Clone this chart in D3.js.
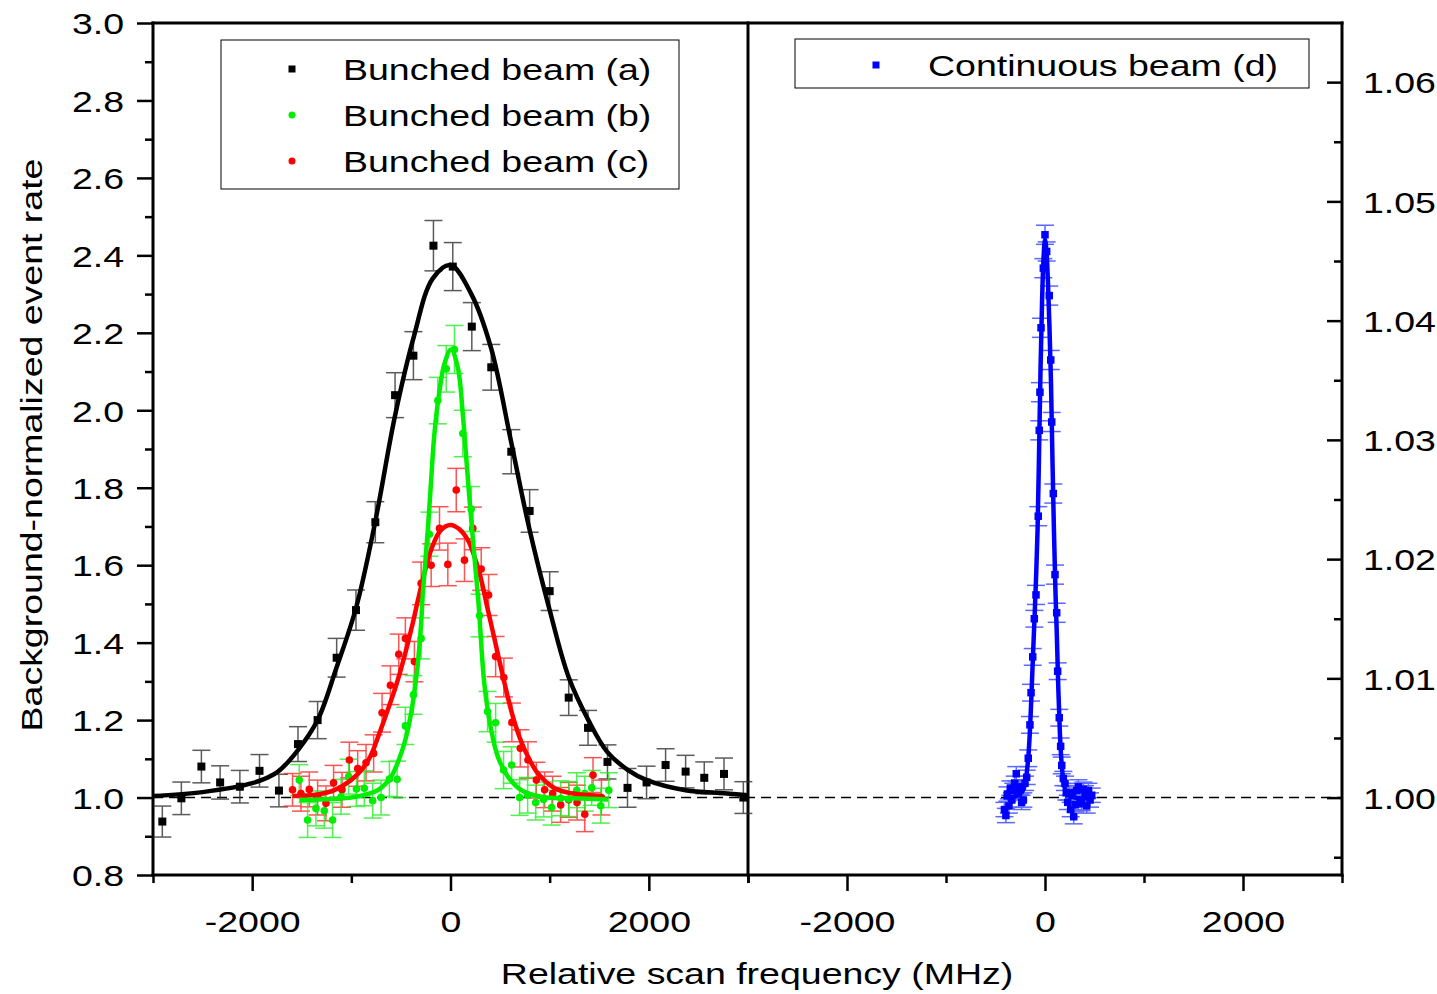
<!DOCTYPE html>
<html>
<head>
<meta charset="utf-8">
<script src="https://d3js.org/d3.v7.min.js"></script>
<style>
body { margin: 0; background: #fff; }
text { font-family: "Liberation Sans", Arial, sans-serif; }
</style>
</head>
<body>
<div id="chart"></div>
<script>
// ------------------------------- //
// Data
// ------------------------------- //

// Bunched beam (a), black squares
const freqA = [-2906, -2714, -2512, -2323, -2124, -1926, -1730, -1538, -1340, -1148, -953, -758, -559, -374, -172, 23, 215, 411, 613, 798, 1000, 1192, 1387, 1583, 1785, 1977, 2169, 2371, 2559, 2758, 2953]
const rateA = [0.938, 0.998, 1.080, 1.039, 1.028, 1.069, 1.018, 1.138, 1.200, 1.361, 1.484, 1.711, 2.039, 2.141, 2.425, 2.371, 2.216, 2.111, 1.893, 1.740, 1.533, 1.258, 1.180, 1.092, 1.025, 1.039, 1.084, 1.067, 1.051, 1.061, 1.000]
const errA = [0.040, 0.042, 0.042, 0.043, 0.042, 0.042, 0.042, 0.045, 0.048, 0.050, 0.052, 0.053, 0.058, 0.062, 0.065, 0.062, 0.062, 0.059, 0.057, 0.055, 0.050, 0.046, 0.045, 0.044, 0.050, 0.042, 0.042, 0.042, 0.041, 0.041, 0.041]
const fitFreqA = [-3000, -2500, -2000, -1750, -1540, -1340, -1150, -950, -760, -560, -375, -180, 0, 210, 410, 610, 790, 1000, 1190, 1390, 1580, 1790, 1980, 2370, 2760, 3000]
const fitRateA = [1.004, 1.014, 1.037, 1.065, 1.122, 1.200, 1.335, 1.492, 1.711, 1.985, 2.185, 2.340, 2.375, 2.300, 2.160, 1.920, 1.700, 1.484, 1.312, 1.200, 1.118, 1.071, 1.045, 1.019, 1.011, 1.006]

// Bunched beam (b), green circles
const freqB = [-1525, -1441, -1357, -1273, -1189, -1104, -1027, -949, -869, -785, -700, -616, -538, -455, -374, -296, -212, -128, -43, 40, 124, 209, 293, 374, 455, 535, 616, 697, 778, 859, 939, 1020, 1111, 1192, 1273, 1354, 1424, 1515, 1596]
const rateB = [1.045, 0.942, 0.972, 0.966, 0.942, 1.002, 1.054, 1.022, 1.024, 0.992, 1.000, 1.048, 1.047, 1.185, 1.265, 1.411, 1.680, 2.025, 2.107, 2.157, 1.940, 1.745, 1.470, 1.222, 1.193, 1.071, 1.084, 1.000, 1.006, 0.987, 0.995, 0.974, 0.998, 0.996, 1.019, 1.010, 1.025, 0.979, 1.019]
const errB = [0.040, 0.045, 0.045, 0.045, 0.045, 0.045, 0.045, 0.045, 0.045, 0.045, 0.045, 0.045, 0.047, 0.048, 0.050, 0.053, 0.057, 0.060, 0.060, 0.062, 0.060, 0.058, 0.055, 0.052, 0.050, 0.048, 0.047, 0.046, 0.046, 0.045, 0.045, 0.045, 0.045, 0.045, 0.045, 0.045, 0.045, 0.045, 0.045]
const fitFreqB = [-1525, -1340, -1003, -734, -599, -498, -431, -381, -336, -296, -279, -229, -195, -162, -111, -61, 5, 74, 124, 158, 198, 242, 283, 343, 411, 478, 579, 714, 916, 1219, 1589]
const fitRateB = [0.994, 0.995, 1.000, 1.019, 1.054, 1.114, 1.174, 1.243, 1.330, 1.450, 1.527, 1.690, 1.820, 1.940, 2.050, 2.120, 2.157, 2.110, 1.990, 1.880, 1.751, 1.620, 1.500, 1.290, 1.174, 1.105, 1.054, 1.019, 1.002, 0.998, 0.995]

// Bunched beam (c), red circles
const freqC = [-1593, -1508, -1424, -1340, -1256, -1179, -1094, -1020, -936, -852, -775, -690, -606, -522, -455, -364, -296, -195, -111, -27, 58, 141, 225, 310, 384, 455, 538, 619, 704, 781, 866, 949, 1030, 1111, 1192, 1276, 1354, 1437, 1522]
const rateC = [1.020, 1.010, 1.021, 1.000, 0.985, 1.038, 1.020, 1.097, 1.075, 1.090, 1.114, 1.219, 1.290, 1.370, 1.411, 1.351, 1.553, 1.600, 1.695, 1.602, 1.794, 1.613, 1.695, 1.590, 1.523, 1.364, 1.310, 1.194, 1.127, 1.097, 1.045, 1.020, 1.010, 0.981, 0.994, 0.987, 0.957, 1.058, 1.000]
const errC = [0.042, 0.045, 0.045, 0.045, 0.045, 0.045, 0.045, 0.046, 0.046, 0.047, 0.048, 0.050, 0.050, 0.052, 0.053, 0.052, 0.055, 0.055, 0.056, 0.055, 0.056, 0.055, 0.055, 0.055, 0.053, 0.052, 0.050, 0.050, 0.048, 0.047, 0.046, 0.046, 0.045, 0.045, 0.045, 0.045, 0.045, 0.045, 0.045]
const fitFreqC = [-1593, -1340, -1172, -1003, -886, -801, -717, -633, -548, -465, -381, -296, -195, -100, 0, 90, 175, 293, 377, 462, 545, 629, 714, 798, 882, 1051, 1219, 1522]
const fitRateC = [1.004, 1.008, 1.019, 1.045, 1.075, 1.110, 1.166, 1.226, 1.290, 1.364, 1.450, 1.545, 1.640, 1.690, 1.704, 1.693, 1.665, 1.579, 1.484, 1.389, 1.295, 1.209, 1.144, 1.097, 1.062, 1.024, 1.011, 1.004]

// Continuous beam (d), blue squares (right axis)
const freqD = [-410, -395, -380, -365, -350, -335, -320, -305, -290, -270, -253, -236, -219, -202, -185, -169, -152, -141, -124, -108, -91, -68, -58, -51, -40, -17, 0, 17, 43, 58, 68, 84, 101, 118, 128, 144, 158, 169, 185, 202, 215, 230, 245, 260, 275, 290, 305, 320, 337, 354, 371, 388, 404, 421, 438, 455, 472]
const rateD = [0.9990, 0.9985, 1.0003, 0.9993, 1.0008, 0.9998, 1.0006, 1.0012, 1.0020, 1.0004, 1.0009, 0.9996, 0.9998, 1.0012, 1.0017, 1.0033, 1.0061, 1.0088, 1.0118, 1.0150, 1.0170, 1.0236, 1.0308, 1.0340, 1.0394, 1.0444, 1.0472, 1.0458, 1.0421, 1.0367, 1.0315, 1.0255, 1.0187, 1.0155, 1.0106, 1.0067, 1.0043, 1.0027, 1.0016, 1.0012, 1.0004, 0.9996, 1.0004, 0.9990, 1.0002, 0.9984, 0.9994, 1.0006, 1.0009, 0.9998, 0.9995, 1.0007, 1.0004, 0.9993, 1.0006, 0.9998, 1.0002]
const errD = [0.0006, 0.0006, 0.0006, 0.0006, 0.0006, 0.0006, 0.0006, 0.0006, 0.0006, 0.0006, 0.0006, 0.0006, 0.0006, 0.0006, 0.0006, 0.0007, 0.0007, 0.0007, 0.0007, 0.0007, 0.0008, 0.0008, 0.0008, 0.0008, 0.0008, 0.0008, 0.0008, 0.0008, 0.0008, 0.0008, 0.0008, 0.0008, 0.0008, 0.0008, 0.0007, 0.0007, 0.0007, 0.0007, 0.0006, 0.0006, 0.0006, 0.0006, 0.0006, 0.0006, 0.0006, 0.0006, 0.0006, 0.0006, 0.0006, 0.0006, 0.0006, 0.0006, 0.0006, 0.0006, 0.0006, 0.0006, 0.0006]
const fitFreqD = [-420, -300, -230, -200, -180, -165, -150, -135, -120, -105, -90, -75, -60, -45, -30, -15, 0, 15, 30, 45, 60, 75, 90, 105, 120, 135, 150, 165, 180, 200, 230, 300, 480]
const fitRateD = [1.0000, 1.0001, 1.0005, 1.0012, 1.0024, 1.0038, 1.0060, 1.0090, 1.0122, 1.0152, 1.0185, 1.0225, 1.0290, 1.0360, 1.0415, 1.0452, 1.0468, 1.0458, 1.0432, 1.0395, 1.0350, 1.0285, 1.0225, 1.0175, 1.0135, 1.0090, 1.0055, 1.0032, 1.0018, 1.0008, 1.0003, 1.0000, 1.0000]

// tick values
const yTicksLeft = [0.8, 1.0, 1.2, 1.4, 1.6, 1.8, 2.0, 2.2, 2.4, 2.6, 2.8, 3.0]
const yMinorLeft = [0.9, 1.1, 1.3, 1.5, 1.7, 1.9, 2.1, 2.3, 2.5, 2.7, 2.9]
const yTicksRight = [1.00, 1.01, 1.02, 1.03, 1.04, 1.05, 1.06]
const yMinorRight = [0.995, 1.005, 1.015, 1.025, 1.035, 1.045, 1.055]
const xTicks = [-2000, 0, 2000]
const xMinor = [-3000, -1000, 1000, 3000]

const legendLeft = ["Bunched beam (a)", "Bunched beam (b)", "Bunched beam (c)"]
const legendRight = ["Continuous beam (d)"]

// ------------------------------- //
// Layout
// ------------------------------- //
const width = 1437, height = 994
const plot = { left: 153, mid: 748, right: 1342, top: 23, bottom: 875 }
const SX = 1.25 // the glyphs in the picture are drawn wide
const fontSize = 30

const svg = d3.select("#chart")
    .append("svg")
    .attr("width", width)
    .attr("height", height)

const xL = d3.scaleLinear().domain([-3000, 3000]).range([plot.left, plot.mid])
const xR = d3.scaleLinear().domain([-3000, 3000]).range([plot.mid, plot.right])
const yL = d3.scaleLinear().domain([0.8, 3.0]).range([plot.bottom, plot.top])
const yR = d3.scaleLinear().domain([0.99351, 1.06496]).range([plot.bottom, plot.top])

function styleAxis(g) {
    g.select(".domain").remove()
    g.selectAll(".tick line").attr("stroke", "#000").attr("stroke-width", 2.5)
    g.attr("font-size", fontSize).attr("font-family", "Liberation Sans, Arial, sans-serif")
}

// ------------------------------- //
// Axes
// ------------------------------- //
// left y
svg.append("g")
    .attr("transform", "translate(" + plot.left + ",0)")
    .call(d3.axisLeft(yL).tickValues(yMinorLeft).tickSize(8).tickFormat(""))
    .call(styleAxis)
svg.append("g")
    .attr("transform", "translate(" + plot.left + ",0)")
    .call(d3.axisLeft(yL).tickValues(yTicksLeft).tickSize(16).tickFormat(d3.format(".1f")))
    .call(styleAxis)
    .call(g => g.selectAll("text")
        .attr("x", null)
        .attr("dy", "0.36em")
        .attr("fill", "#000")
        .attr("transform", "translate(-29,0) scale(" + SX + ",1)"))

// right y (ticks inside)
svg.append("g")
    .attr("transform", "translate(" + plot.right + ",0)")
    .call(d3.axisRight(yR).tickValues(yMinorRight).tickSize(-8).tickFormat(""))
    .call(styleAxis)
svg.append("g")
    .attr("transform", "translate(" + plot.right + ",0)")
    .call(d3.axisRight(yR).tickValues(yTicksRight).tickSize(-15).tickFormat(d3.format(".2f")))
    .call(styleAxis)
    .call(g => g.selectAll("text")
        .attr("x", null)
        .attr("dy", "0.36em")
        .attr("fill", "#000")
        .attr("text-anchor", "start")
        .attr("transform", "translate(21,0) scale(" + SX + ",1)"))

// bottom x, one per panel
for (const xs of [xL, xR]) {
    svg.append("g")
        .attr("transform", "translate(0," + plot.bottom + ")")
        .call(d3.axisBottom(xs).tickValues(xMinor).tickSize(8).tickFormat(""))
        .call(styleAxis)
    svg.append("g")
        .attr("transform", "translate(0," + plot.bottom + ")")
        .call(d3.axisBottom(xs).tickValues(xTicks).tickSize(16).tickFormat(d => String(d)))
        .call(styleAxis)
        .call(g => g.selectAll("text")
            .attr("y", null)
            .attr("dy", null)
            .attr("fill", "#000")
            .attr("transform", "translate(0,57) scale(" + SX + ",1)"))
}

// frame and panel divider
const frame = [
    [plot.left, plot.top, plot.right, plot.top],
    [plot.left, plot.bottom, plot.right, plot.bottom],
    [plot.left, plot.top, plot.left, plot.bottom],
    [plot.mid, plot.top, plot.mid, plot.bottom],
    [plot.right, plot.top, plot.right, plot.bottom]
]
svg.append("g").selectAll("line")
    .data(frame)
    .enter()
    .append("line")
    .attr("x1", d => d[0]).attr("y1", d => d[1])
    .attr("x2", d => d[2]).attr("y2", d => d[3])
    .attr("stroke", "#000")
    .attr("stroke-width", 3)
    .attr("stroke-linecap", "square")

// axis titles
svg.append("text")
    .attr("transform", "translate(757,984) scale(" + SX + ",1)")
    .attr("text-anchor", "middle")
    .attr("font-size", fontSize)
    .text("Relative scan frequency (MHz)")
svg.append("text")
    .attr("transform", "translate(42,445) rotate(-90) scale(" + SX + ",1)")
    .attr("text-anchor", "middle")
    .attr("font-size", fontSize)
    .text("Background-normalized event rate")

// baseline at 1.0 through both panels
svg.append("line")
    .attr("x1", xL(-3000)).attr("x2", xR(3000))
    .attr("y1", yL(1.0)).attr("y2", yL(1.0))
    .attr("stroke", "#000")
    .attr("stroke-width", 1.6)
    .attr("stroke-dasharray", "10,6")

// ------------------------------- //
// Series
// ------------------------------- //
function errorBars(xs, ys, fr, rt, er, color) {
    const g = svg.append("g").attr("stroke", color).attr("stroke-width", 1.5).attr("opacity", 0.8)
    fr.forEach((f, i) => {
        const px = xs(f), top = ys(rt[i] + er[i]), bot = ys(rt[i] - er[i])
        g.append("line").attr("x1", px).attr("x2", px).attr("y1", top).attr("y2", bot)
        g.append("line").attr("x1", px - 9).attr("x2", px + 9).attr("y1", top).attr("y2", top)
        g.append("line").attr("x1", px - 9).attr("x2", px + 9).attr("y1", bot).attr("y2", bot)
    })
}

function squares(xs, ys, fr, rt, color, s) {
    svg.append("g").selectAll("rect")
        .data(fr)
        .enter()
        .append("rect")
        .attr("x", (d, i) => xs(d) - s / 2)
        .attr("y", (d, i) => ys(rt[i]) - s / 2)
        .attr("width", s).attr("height", s)
        .attr("fill", color)
}

function circles(xs, ys, fr, rt, color, r) {
    svg.append("g").selectAll("circle")
        .data(fr)
        .enter()
        .append("circle")
        .attr("cx", d => xs(d))
        .attr("cy", (d, i) => ys(rt[i]))
        .attr("r", r)
        .attr("fill", color)
}

function fitLine(xs, ys, fr, rt, color, w) {
    const line = d3.line()
        .x(d => xs(d[0]))
        .y(d => ys(d[1]))
        .curve(d3.curveCatmullRom.alpha(0.5))
    svg.append("path")
        .datum(fr.map((f, i) => [f, rt[i]]))
        .attr("d", line)
        .attr("fill", "none")
        .attr("stroke", color)
        .attr("stroke-width", w)
        .attr("stroke-linejoin", "round")
}

// (a)
errorBars(xL, yL, freqA, rateA, errA, "#333")
squares(xL, yL, freqA, rateA, "#000", 8)
fitLine(xL, yL, fitFreqA, fitRateA, "#000", 4.5)

// (c) and (b)
errorBars(xL, yL, freqC, rateC, errC, "#ff2a2a")
errorBars(xL, yL, freqB, rateB, errB, "#22ee22")
circles(xL, yL, freqC, rateC, "#ff0000", 3.8)
circles(xL, yL, freqB, rateB, "#00ee00", 3.8)
fitLine(xL, yL, fitFreqC, fitRateC, "#ff0000", 4.5)
fitLine(xL, yL, fitFreqB, fitRateB, "#00ee00", 4.5)

// (d)
errorBars(xR, yR, freqD, rateD, errD, "#3344ff")
squares(xR, yR, freqD, rateD, "#0000ff", 7.5)
fitLine(xR, yR, fitFreqD, fitRateD, "#0000ff", 4.5)

// ------------------------------- //
// Legends
// ------------------------------- //
svg.append("rect")
    .attr("x", 221).attr("y", 40).attr("width", 458).attr("height", 149)
    .attr("fill", "#fff").attr("stroke", "#000").attr("stroke-width", 1)
const legColors = ["#000", "#00ee00", "#ff0000"]
legendLeft.forEach((name, i) => {
    const cy = 69 + i * 46
    if (i === 0) {
        svg.append("rect").attr("x", 288.5).attr("y", cy - 3.5).attr("width", 7).attr("height", 7).attr("fill", legColors[i])
    } else {
        svg.append("circle").attr("cx", 292).attr("cy", cy).attr("r", 3.5).attr("fill", legColors[i])
    }
    svg.append("text")
        .attr("transform", "translate(343," + (cy + 11) + ") scale(" + SX + ",1)")
        .attr("font-size", fontSize)
        .text(name)
})

svg.append("rect")
    .attr("x", 795).attr("y", 39).attr("width", 514).attr("height", 49)
    .attr("fill", "#fff").attr("stroke", "#000").attr("stroke-width", 1)
svg.append("rect").attr("x", 872.5).attr("y", 61.5).attr("width", 7).attr("height", 7).attr("fill", "#0000ff")
svg.append("text")
    .attr("transform", "translate(928,76) scale(" + SX + ",1)")
    .attr("font-size", fontSize)
    .text(legendRight[0])
</script>
</body>
</html>
